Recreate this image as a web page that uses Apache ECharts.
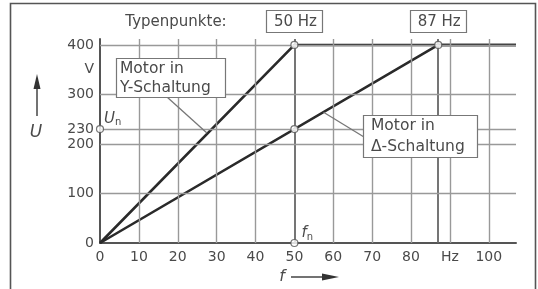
<!DOCTYPE html>
<html>
<head>
<meta charset="utf-8">
<script src="https://cdn.jsdelivr.net/npm/echarts@6/dist/echarts.min.js"></script>
<style>
  html, body { margin: 0; padding: 0; background: #fff; }
  #chart { width: 538px; height: 289px; }
</style>
</head>
<body>
<div id="chart"></div>
<script>
// Kennlinien U(f)
const starFreq = [0, 50, 107];
const starVolt = [0, 400, 400];
const deltaFreq = [0, 87, 107];
const deltaVolt = [0, 400, 400];

// Typenpunkte (offene Kreise)
const pointFreq = [50, 87, 50, 0, 50];
const pointVolt = [400, 400, 230, 230, 0];

// Gitter
const xGridLines = [10, 20, 30, 40, 50, 60, 70, 80, 87, 90, 100];
const yGridLines = [100, 200, 230, 300, 400];
const strongX = [50, 87];

// Achsbeschriftung
const xTickValues = [0, 10, 20, 30, 40, 50, 60, 70, 80, 90, 100];
const xTickLabels = ['0', '10', '20', '30', '40', '50', '60', '70', '80', 'Hz', '100'];
const yTickValues = [0, 100, 200, 230, 300, 350, 400];
const yTickLabels = ['0', '100', '200', '230', '300', 'V', '400'];

const typeLabels = ['50 Hz', '87 Hz'];
const typeFreq = [50, 87];

const FONT = '"DejaVu Sans", Arial, sans-serif';
const TXT = '#4a4a4a';

function zip(a, b) {
  return a.map(function (v, i) { return [v, b[i]]; });
}

const chart = echarts.init(document.getElementById('chart'), null, { renderer: 'canvas' });

const gridMarks = xGridLines.map(function (v) {
  const strong = strongX.indexOf(v) >= 0;
  return { xAxis: v, lineStyle: { type: 'solid', color: strong ? '#666' : '#999', width: strong ? 1.8 : 1.4 } };
}).concat(yGridLines.map(function (v) {
  return { yAxis: v, lineStyle: { type: 'solid', color: '#999', width: 1.4 } };
}));

const option = {
  backgroundColor: '#ffffff',
  animation: false,
  textStyle: { fontFamily: FONT },
  grid: { left: 100, right: 22, top: 39, bottom: 46 },
  xAxis: {
    type: 'value', min: 0, max: 107,
    axisLine: { show: true, onZero: false, lineStyle: { color: '#555', width: 2 } },
    axisTick: { show: false },
    splitLine: { show: false },
    axisLabel: {
      customValues: xTickValues, margin: 7, fontSize: 14, color: TXT, fontFamily: FONT,
      formatter: function (v) { return xTickLabels[xTickValues.indexOf(v)]; }
    }
  },
  yAxis: {
    type: 'value', min: 0, max: 412,
    axisLine: { show: true, onZero: false, lineStyle: { color: '#555', width: 2 } },
    axisTick: { show: false },
    splitLine: { show: false },
    axisLabel: {
      customValues: yTickValues, margin: 6, fontSize: 14, color: TXT, fontFamily: FONT,
      formatter: function (v) { return yTickLabels[yTickValues.indexOf(v)]; }
    }
  },
  series: [
    {
      type: 'line', data: [], z: 1, silent: true,
      markLine: { silent: true, symbol: 'none', label: { show: false }, animation: false, data: gridMarks }
    },
    {
      name: 'Y', type: 'line', data: zip(starFreq, starVolt), z: 3,
      symbol: 'none', lineStyle: { color: '#2a2a2a', width: 2.6 }
    },
    {
      name: 'D', type: 'line', data: zip(deltaFreq, deltaVolt), z: 3,
      symbol: 'none', lineStyle: { color: '#2a2a2a', width: 2.6 }
    },
    {
      type: 'scatter', data: zip(pointFreq, pointVolt), z: 5, clip: false,
      symbol: 'circle', symbolSize: 7,
      itemStyle: { color: '#fff', borderColor: '#555', borderWidth: 1.2 }
    }
  ]
};
chart.setOption(option);

function px(f, u) { return chart.convertToPixel({ gridIndex: 0 }, [f, u]); }

// Anmerkungen
const g = [];
// Rahmen
g.push({ type: 'rect', shape: { x: 10.5, y: 3.5, width: 525, height: 295 },
  style: { fill: 'none', stroke: '#555', lineWidth: 1.6 }, z: 100 });

g.push({ type: 'text', x: 176, y: 22, style: { text: 'Typenpunkte:', font: '15px ' + FONT, fill: TXT, align: 'center', verticalAlign: 'middle' } });

typeFreq.forEach(function (f, i) {
  const p = px(f, 400);
  g.push({ type: 'rect', shape: { x: Math.round(p[0]) - 27.5, y: 10.5, width: 56, height: 22 },
    style: { fill: '#fff', stroke: '#777', lineWidth: 1.2 } });
  g.push({ type: 'text', x: p[0] + 1, y: 22, style: { text: typeLabels[i], font: '15px ' + FONT, fill: TXT, align: 'center', verticalAlign: 'middle' } });
});

// Leitlinien
const b1 = px(27.5, 222);
g.push({ type: 'line', shape: { x1: 167, y1: 97, x2: b1[0], y2: b1[1] }, style: { stroke: '#777', lineWidth: 1.3 }, z: 10 });
const b2 = px(57.5, 264);
g.push({ type: 'line', shape: { x1: b2[0], y1: b2[1], x2: 364, y2: 137 }, style: { stroke: '#777', lineWidth: 1.3 }, z: 10 });

// Boxen
g.push({ type: 'rect', shape: { x: 116.5, y: 58.5, width: 109, height: 39 }, style: { fill: '#fff', stroke: '#777', lineWidth: 1.2 }, z: 11 });
g.push({ type: 'text', x: 120, y: 78, style: { text: 'Motor in\nY-Schaltung', font: '15.5px ' + FONT, fill: TXT, lineHeight: 19, verticalAlign: 'middle' }, z: 12 });
g.push({ type: 'rect', shape: { x: 363.5, y: 115.5, width: 114, height: 42 }, style: { fill: '#fff', stroke: '#777', lineWidth: 1.2 }, z: 11 });
g.push({ type: 'text', x: 371, y: 136.5, style: { text: 'Motor in\nΔ-Schaltung', font: '15.5px ' + FONT, fill: TXT, lineHeight: 21, verticalAlign: 'middle' }, z: 12 });

// Un, fn
const un = px(0, 230);
g.push({ type: 'text', x: un[0] + 4, y: un[1] - 2, style: {
  text: '{i|U}{s|n}', verticalAlign: 'bottom',
  rich: { i: { font: 'italic 15px ' + FONT, fill: TXT }, s: { font: '10px ' + FONT, fill: TXT, padding: [7, 0, 0, 0] } } } });
const fn = px(50, 0);
g.push({ type: 'text', x: fn[0] + 7, y: fn[1] - 1, style: {
  text: '{i|f}{s|n}', verticalAlign: 'bottom',
  rich: { i: { font: 'italic 15px ' + FONT, fill: TXT }, s: { font: '10px ' + FONT, fill: TXT, padding: [7, 0, 0, 0] } } } });

// Achsnamen mit Pfeil
g.push({ type: 'line', shape: { x1: 37, y1: 116, x2: 37, y2: 86 }, style: { stroke: '#444', lineWidth: 1.5 } });
g.push({ type: 'polygon', shape: { points: [[37, 74], [33.5, 89], [40.5, 89]] }, style: { fill: '#333' } });
g.push({ type: 'text', x: 36, y: 133, style: { text: 'U', font: 'italic 17px ' + FONT, fill: TXT, align: 'center', verticalAlign: 'middle' } });

g.push({ type: 'text', x: 282, y: 277, style: { text: 'f', font: 'italic 16px ' + FONT, fill: TXT, align: 'center', verticalAlign: 'middle' } });
g.push({ type: 'line', shape: { x1: 291, y1: 277, x2: 325, y2: 277 }, style: { stroke: '#444', lineWidth: 1.5 } });
g.push({ type: 'polygon', shape: { points: [[339, 277], [322, 273.5], [322, 280.5]] }, style: { fill: '#333' } });

chart.setOption({ graphic: { elements: g } });
</script>
</body>
</html>
